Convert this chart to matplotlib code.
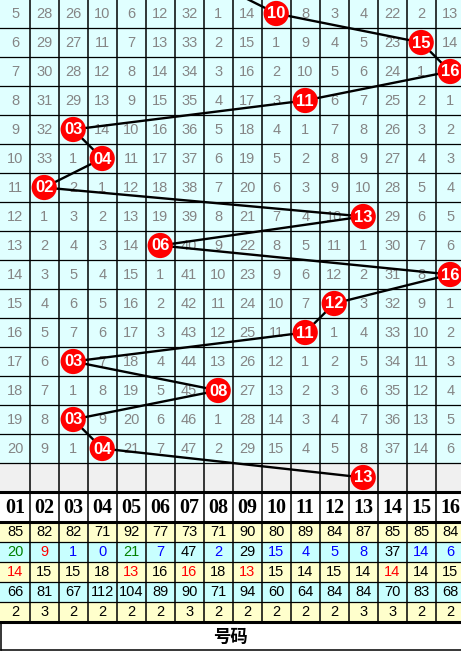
import matplotlib
matplotlib.use("Agg")
import matplotlib.pyplot as plt
from matplotlib.patches import Rectangle

# ---------------- data ----------------
numbers = ["01", "02", "03", "04", "05", "06", "07", "08",
           "09", "10", "11", "12", "13", "14", "15", "16"]

omission = [
    [5, 28, 26, 10, 6, 12, 32, 1, 14, 0, 8, 3, 4, 22, 2, 13],
    [6, 29, 27, 11, 7, 13, 33, 2, 15, 1, 9, 4, 5, 23, 0, 14],
    [7, 30, 28, 12, 8, 14, 34, 3, 16, 2, 10, 5, 6, 24, 1, 0],
    [8, 31, 29, 13, 9, 15, 35, 4, 17, 3, 0, 6, 7, 25, 2, 1],
    [9, 32, 0, 14, 10, 16, 36, 5, 18, 4, 1, 7, 8, 26, 3, 2],
    [10, 33, 1, 0, 11, 17, 37, 6, 19, 5, 2, 8, 9, 27, 4, 3],
    [11, 0, 2, 1, 12, 18, 38, 7, 20, 6, 3, 9, 10, 28, 5, 4],
    [12, 1, 3, 2, 13, 19, 39, 8, 21, 7, 4, 10, 0, 29, 6, 5],
    [13, 2, 4, 3, 14, 0, 40, 9, 22, 8, 5, 11, 1, 30, 7, 6],
    [14, 3, 5, 4, 15, 1, 41, 10, 23, 9, 6, 12, 2, 31, 8, 0],
    [15, 4, 6, 5, 16, 2, 42, 11, 24, 10, 7, 0, 3, 32, 9, 1],
    [16, 5, 7, 6, 17, 3, 43, 12, 25, 11, 0, 1, 4, 33, 10, 2],
    [17, 6, 0, 7, 18, 4, 44, 13, 26, 12, 1, 2, 5, 34, 11, 3],
    [18, 7, 1, 8, 19, 5, 45, 0, 27, 13, 2, 3, 6, 35, 12, 4],
    [19, 8, 0, 9, 20, 6, 46, 1, 28, 14, 3, 4, 7, 36, 13, 5],
    [20, 9, 1, 0, 21, 7, 47, 2, 29, 15, 4, 5, 8, 37, 14, 6],
]
hits = [10, 15, 16, 11, 3, 4, 2, 13, 6, 16, 12, 11, 3, 8, 3, 4]
prev_hit = 8
next_hit = 13

stat_total = [85, 82, 82, 71, 92, 77, 73, 71, 90, 80, 89, 84, 87, 85, 85, 84]
stat_current = [20, 9, 1, 0, 21, 7, 47, 2, 29, 15, 4, 5, 8, 37, 14, 6]
stat_current_colors = ["green", "red", "blue", "blue", "green", "blue", "black", "blue",
                       "black", "blue", "blue", "blue", "blue", "black", "blue", "blue"]
stat_avg = [14, 15, 15, 18, 13, 16, 16, 18, 13, 15, 14, 15, 14, 14, 14, 15]
stat_avg_colors = ["red", "black", "black", "black", "red", "black", "red", "black",
                   "red", "black", "black", "black", "black", "red", "black", "black"]
stat_max = [66, 81, 67, 112, 104, 89, 90, 71, 94, 60, 64, 84, 84, 70, 83, 68]
stat_streak = [2, 3, 2, 2, 2, 2, 3, 2, 2, 2, 2, 2, 3, 3, 2, 2]
footer_label = "号码"

# ---------------- layout ----------------
W, H = 461, 652
CW = 29.0
X0 = 0.7
Y0 = -1.0
RH = 29.0
NROWS = len(hits)
GRAY_TOP = Y0 + RH * NROWS
HDR_TOP = GRAY_TOP + RH
HDR_BOT = HDR_TOP + 30
SRH = 20.0
STAT_BOT = HDR_BOT + 5 * SRH
LBL_BOT = 650

fig = plt.figure(figsize=(W / 100, H / 100), dpi=100)
ax = fig.add_axes([0, 0, 1, 1])
ax.set_xlim(-X0 / CW, (W - X0) / CW)
ax.set_ylim(H, 0)
ax.axis("off")
fig.patch.set_facecolor("white")

ncol = len(numbers)

def rc(r):
    return Y0 + RH * r + RH / 2

# backgrounds
ax.add_patch(Rectangle((-1, Y0 - 2), ncol + 2, RH * NROWS + 2, fc="#E0FFFF", ec="none", zorder=0))
ax.add_patch(Rectangle((-1, GRAY_TOP), ncol + 2, RH, fc="#F0F0F0", ec="none", zorder=0))
stat_bg = ["#FFFFCC", "#C8FFFF", "#FFFFCC", "#C8FFFF", "#FFFFCC"]
for j, c in enumerate(stat_bg):
    ax.add_patch(Rectangle((-1, HDR_BOT + SRH * j), ncol + 2, SRH, fc=c, ec="none", zorder=0))

# grid lines
for i in range(1, NROWS + 1):
    ax.plot([-1, ncol + 1], [Y0 + RH * i] * 2, color="black", lw=0.9, zorder=1)
for j in range(1, 5):
    ax.plot([-1, ncol + 1], [HDR_BOT + SRH * j] * 2, color="black", lw=0.9, zorder=1)
for k in range(1, ncol + 1):
    ax.plot([k, k], [0, STAT_BOT], color="black", lw=1.1, zorder=1)
for y in (HDR_TOP, HDR_BOT, STAT_BOT):
    ax.plot([-1, ncol + 1], [y, y], color="black", lw=2.2, zorder=3)
# footer box
ax.plot([0, 0], [STAT_BOT, LBL_BOT], color="black", lw=1.1, zorder=1)
ax.plot([0, ncol + 1], [LBL_BOT, LBL_BOT], color="black", lw=1.1, zorder=1)

# omission numbers
for r, row in enumerate(omission):
    for k, v in enumerate(row):
        if hits[r] - 1 == k:
            continue
        ax.text(k + 0.5, rc(r) + 0.5, str(v), ha="center", va="center",
                fontsize=10.5, color="#858585", family="Liberation Sans", zorder=2)

# trend line
xs = [prev_hit - 0.5] + [h - 0.5 for h in hits] + [next_hit - 0.5]
ys = [rc(-1)] + [rc(r) for r in range(NROWS)] + [rc(NROWS)]
ax.plot(xs, ys, color="black", lw=1.7, zorder=4, solid_capstyle="round")

# balls
bx = [h - 0.5 for h in hits] + [next_hit - 0.5]
by = [rc(r) for r in range(NROWS)] + [rc(NROWS)]
ax.scatter(bx, by, s=330, color="#FF0000", edgecolors="none", zorder=5)
labels = [numbers[h - 1] for h in hits] + [numbers[next_hit - 1]]
for x, y, t in zip(bx, by, labels):
    ax.text(x, y + 0.5, t, ha="center", va="center", fontsize=12, color="white",
            fontweight="bold", family="Liberation Sans", zorder=6)

# header
for k, t in enumerate(numbers):
    ax.text(k + 0.5, (HDR_TOP + HDR_BOT) / 2 + 1, t, ha="center", va="center",
            fontsize=14.5, fontweight="bold", family="Liberation Serif", color="black", zorder=6)

# stats
stat_rows = [
    (stat_total, ["black"] * ncol),
    (stat_current, stat_current_colors),
    (stat_avg, stat_avg_colors),
    (stat_max, ["black"] * ncol),
    (stat_streak, ["black"] * ncol),
]
for j, (vals, cols) in enumerate(stat_rows):
    yc = HDR_BOT + SRH * j + SRH / 2 + 0.5
    for k, (v, c) in enumerate(zip(vals, cols)):
        ax.text(k + 0.5, yc, str(v), ha="center", va="center", fontsize=10.5,
                color=c, family="Liberation Sans", zorder=6)

# footer label
ax.text((W / 2 - X0) / CW, (STAT_BOT + LBL_BOT) / 2 + 1, footer_label, ha="center", va="center",
        fontsize=12.5, fontweight="bold", family=["Noto Sans CJK SC", "DejaVu Sans"], zorder=6)

fig.savefig("out.png", dpi=100)
